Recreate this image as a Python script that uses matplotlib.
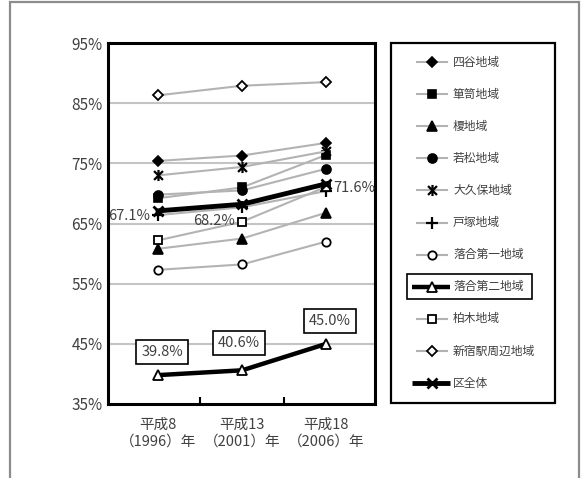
import matplotlib
matplotlib.use("Agg")
import matplotlib.pyplot as plt
from matplotlib.path import Path
from matplotlib.patches import Rectangle

plt.rcParams['font.family'] = ['Noto Sans CJK JP', 'DejaVu Sans']

# --- data -------------------------------------------------------------
years = ["平成8\n（1996）年", "平成13\n（2001）年", "平成18\n（2006）年"]
areas = ["四谷地域", "箪笥地域", "榎地域", "若松地域", "大久保地域", "戸塚地域",
         "落合第一地域", "落合第二地域", "柏木地域", "新宿駅周辺地域", "区全体"]
yotsuya   = [75.4, 76.3, 78.4]
tansu     = [69.2, 71.0, 76.4]
enoki     = [60.8, 62.5, 66.8]
wakamatsu = [69.8, 70.5, 74.1]
okubo     = [73.0, 74.4, 77.0]
totsuka   = [66.4, 67.7, 70.4]
ochiai1   = [57.3, 58.2, 62.0]
ochiai2   = [39.8, 40.6, 45.0]
kashiwagi = [62.2, 65.3, 71.1]
shinjuku  = [86.3, 87.9, 88.5]
ward      = [67.1, 68.2, 71.6]
series = [yotsuya, tansu, enoki, wakamatsu, okubo, totsuka,
          ochiai1, ochiai2, kashiwagi, shinjuku, ward]
yticks = [35, 45, 55, 65, 75, 85, 95]

# --- styles -----------------------------------------------------------
GRAY = "#b3b3b3"
TXT = "#404040"
star = Path([(0, -1), (0, 1), (-0.8, -0.8), (0.8, 0.8), (-0.8, 0.8), (0.8, -0.8)],
            [Path.MOVETO, Path.LINETO] * 3)
thin = dict(color=GRAY, lw=1.5, mec="black", mew=1.2)
styles = [
    dict(thin, marker="D", ms=5, mfc="black"),
    dict(thin, marker="s", ms=6, mfc="black"),
    dict(thin, marker="^", ms=7, mfc="black"),
    dict(thin, marker="o", ms=6.5, mfc="black"),
    dict(thin, marker=star, ms=8, mew=1.6),
    dict(thin, marker="+", ms=8, mew=1.6),
    dict(thin, marker="o", ms=6, mfc="white", mew=1.3),
    dict(color="black", lw=3.2, marker="^", ms=7.5, mfc="white", mec="black", mew=1.3),
    dict(thin, marker="s", ms=6, mfc="white", mew=1.3),
    dict(thin, marker="D", ms=5, mfc="white", mew=1.3),
    dict(color="black", lw=3.5, marker="x", ms=7, mec="black", mew=2.0),
]

W, H = 581, 478
fig = plt.figure(figsize=(W / 100, H / 100), dpi=100)
ax = fig.add_axes([108 / W, 1 - 404 / H, 267 / W, 361 / H])

x = range(len(years))
for i, (vals, st) in enumerate(zip(series, styles)):
    heavy = st["color"] == "black"
    ax.plot(x, vals, zorder=4 if heavy else 3, **st)

ax.set_xlim(-0.595, 2.58)
ax.set_ylim(35, 95)
ax.set_yticks(yticks)
ax.set_yticklabels([f"{v}%" for v in yticks], fontsize=11, color=TXT)
ax.set_xticks(list(x))
ax.set_xticklabels(years, fontsize=10.5, color=TXT, linespacing=1.25)
ax.set_xticks([0.5, 1.5], minor=True)
ax.tick_params(axis="y", length=0, pad=4)
ax.tick_params(axis="x", which="major", length=0, pad=10)
ax.tick_params(axis="x", which="minor", direction="in", length=5, width=1.5)
for v in yticks[1:-1]:
    ax.axhline(v, color="#c4c4c4", lw=1.5, zorder=1)
for s in ax.spines.values():
    s.set_linewidth(2.2)
    s.set_color("black")

# value labels for the ward total
ward_off = [(-8, -5), (-7, -17), (7, -4)]
for i, (v, off) in enumerate(zip(ward, ward_off)):
    ax.annotate(f"{v}%", (i, v), xytext=off, textcoords="offset pixels",
                ha="right" if off[0] < 0 else "left", va="center",
                fontsize=10.5, color=TXT, zorder=6)

# boxed value labels for 落合第二地域
box_off = [(4, 23), (-3, 27), (4, 23)]
for i, (v, off) in enumerate(zip(ochiai2, box_off)):
    ax.annotate(f"{v}%", (i, v), xytext=off, textcoords="offset pixels",
                ha="center", va="center", fontsize=10.5, color=TXT, zorder=6,
                bbox=dict(boxstyle="square,pad=0.35", fc="white", ec="black", lw=1.2))

# --- overlay in pixel coordinates: outer frame and legend -------------
ov = fig.add_axes([0, 0, 1, 1], zorder=10)
ov.set_xlim(0, W)
ov.set_ylim(H, 0)
ov.axis("off")
ov.patch.set_alpha(0)

ov.plot([10, 10, 579, 579], [H, 2, 2, H], color="#8c8c8c", lw=1.6,
        solid_joinstyle="miter")

ov.add_patch(Rectangle((391, 43), 164, 360, fill=False, ec="black", lw=1.6))
y0, dy = 62, 32.1
for i, (name, st) in enumerate(zip(areas, styles)):
    yy = y0 + i * dy
    line_st = {k: v for k, v in st.items() if k in ("color", "lw")}
    mk_st = {k: v for k, v in st.items() if k not in ("color", "lw")}
    if st["color"] == "black":
        ov.plot([412, 450], [yy, yy], solid_capstyle="butt", **line_st)
    else:
        ov.plot([417, 447], [yy, yy], **line_st)
    ov.plot([432], [yy], ls="none", **mk_st)
    ov.text(453, yy, name, ha="left", va="center", fontsize=8.5, color=TXT)
    if name == "落合第二地域":
        ov.add_patch(Rectangle((407, yy - 12.5), 125, 25, fill=False,
                               ec="black", lw=1.2))

fig.savefig("out.png", dpi=100, facecolor="white")
